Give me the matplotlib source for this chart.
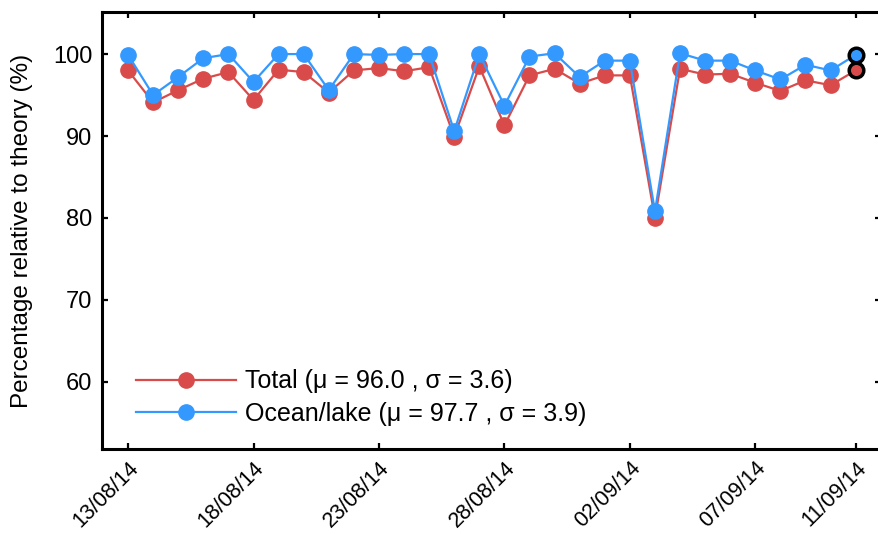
import matplotlib
matplotlib.use("Agg")
import matplotlib.pyplot as plt
import matplotlib.dates as mdates
import pandas as pd

plt.rcParams['font.family'] = ['Liberation Sans', 'DejaVu Sans']

# daily values, 13/08/14 .. 11/09/14
dates = pd.date_range('2014-08-13', '2014-09-11', freq='D')
total = [98.0, 94.1, 95.6, 97.0, 97.8, 94.4, 98.1, 97.8, 95.3, 98.0,
         98.3, 97.9, 98.4, 89.9, 98.5, 91.3, 97.4, 98.2, 96.4, 97.4,
         97.4, 80.0, 98.2, 97.5, 97.6, 96.5, 95.5, 96.8, 96.2, 98.0]
ocean = [99.9, 95.0, 97.2, 99.5, 100.0, 96.6, 100.0, 100.0, 95.6, 100.0,
         99.9, 100.0, 100.0, 90.6, 100.0, 93.7, 99.7, 100.1, 97.2, 99.2,
         99.2, 80.8, 100.1, 99.2, 99.2, 98.0, 96.9, 98.7, 98.0, 99.9]
tick_dates = ['2014-08-13', '2014-08-18', '2014-08-23', '2014-08-28',
              '2014-09-02', '2014-09-07', '2014-09-11']

red = '#d94b4b'
blue = '#3399ff'

fig = plt.figure(figsize=(8.79, 5.34), dpi=100)
ax = fig.add_axes([0.116, 0.159, 0.886, 0.818])

ax.plot(dates, total, color=red, lw=1.6, marker='o', ms=11, mec=red,
        label='Total (\u03bc = 96.0 , \u03c3 = 3.6)')
ax.plot(dates, ocean, color=blue, lw=1.6, marker='o', ms=11, mec=blue,
        label='Ocean/lake (\u03bc = 97.7 , \u03c3 = 3.9)')
# highlight last day
ax.plot(dates[-1:], total[-1:], 'o', ms=10.5, color=red, mec='black', mew=2.5)
ax.plot(dates[-1:], ocean[-1:], 'o', ms=10.5, color=blue, mec='black', mew=2.5)

ax.set_xlim(dates[0] - pd.Timedelta(days=1.04), dates[-1] + pd.Timedelta(days=1.0))
ax.set_ylim(51.8, 105.1)
ax.set_yticks([60, 70, 80, 90, 100])
ax.set_xticks(pd.to_datetime(tick_dates))
ax.xaxis.set_major_formatter(mdates.DateFormatter('%d/%m/%y'))
ax.xaxis.set_minor_locator(plt.NullLocator())

for s in ax.spines.values():
    s.set_linewidth(2.2)
ax.tick_params(direction='in', length=4, width=1.6, labelsize=17, pad=7,
               top=True, right=True)
ax.tick_params(axis='x', labelsize=15.5, pad=6)
plt.setp(ax.get_xticklabels(), rotation=45, ha='right', rotation_mode='anchor')

ax.set_ylabel('Percentage relative to theory (%)', fontsize=17.5, labelpad=14)

ax.legend(loc='lower left', frameon=False, fontsize=18, handlelength=4.0,
          handletextpad=0.35, labelspacing=0.35, borderpad=0,
          bbox_to_anchor=(0.028, 0.024))

fig.savefig('out.png', dpi=100)
